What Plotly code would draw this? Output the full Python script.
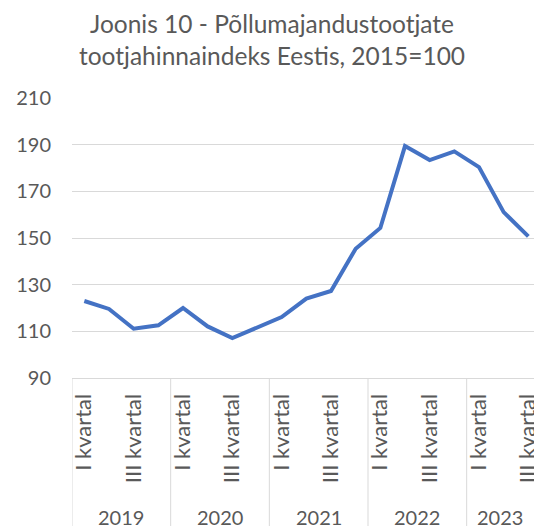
import plotly.graph_objects as go

years = ["2019", "2020", "2021", "2022", "2023"]
quarters = ["I kvartal", "II kvartal", "III kvartal", "IV kvartal"]
year_quarter_counts = [4, 4, 4, 4, 3]
values = [123.0, 119.6, 111.1, 112.6, 120.0, 112.1, 107.1, 111.5, 116.1, 124.0,
          127.3, 145.4, 154.3, 189.4, 183.4, 187.1, 180.4, 161.1, 150.7]
y_ticks = [90, 110, 130, 150, 170, 190, 210]
title_lines = ["Joonis 10 - Põllumajandustootjate", "tootjahinnaindeks Eestis, 2015=100"]

cat_labels = []
for y, n in zip(years, year_quarter_counts):
    for q in quarters[:n]:
        cat_labels.append(q)
xs = list(range(len(values)))

TXT = "#595959"
GRID = "#d9d9d9"
FONT = "Lato"

fig = go.Figure()
fig.add_trace(go.Scatter(x=xs, y=values, mode="lines",
                         line=dict(color="#4472C4", width=4),
                         hoverinfo="skip"))

tickvals = [i for i, l in enumerate(cat_labels) if l in ("I kvartal", "III kvartal")]
ticktext = [cat_labels[i] for i in tickvals]

W, H = 534, 526
mt, mb, ml, mr = 98, 148, 72, 0
ph = H - mt - mb
pw = W - ml - mr
XMAX = 18.23

shapes = []
annotations = []
start = 0
for y, n in zip(years, year_quarter_counts):
    shapes.append(dict(type="line", xref="x", yref="paper", x0=start - 0.5, x1=start - 0.5,
                       y0=0, y1=-(mb + 2) / ph, line=dict(color=GRID, width=1)))
    right = min(start + n - 0.5, XMAX)
    annotations.append(dict(x=(start - 0.5 + right) / 2,
                            y=-(516.5 - (H - mb)) / ph, xref="x", yref="paper",
                            text=y, showarrow=False, yanchor="middle",
                            font=dict(family=FONT, size=20, color=TXT)))
    start += n

# title as annotation (pixel centre ~ x 272, y 39)
annotations.append(dict(x=(272 - ml) / pw, y=(H - mb - 39) / ph, xref="paper", yref="paper",
                        text="<br>".join(title_lines), showarrow=False,
                        xanchor="center", yanchor="middle", align="center",
                        font=dict(family=FONT, size=24.5, color=TXT)))

fig.update_layout(
    width=W, height=H,
    margin=dict(l=ml, r=mr, t=mt, b=mb, autoexpand=False),
    paper_bgcolor="white", plot_bgcolor="white",
    showlegend=False,
    xaxis=dict(range=[-0.5, XMAX], tickmode="array", tickvals=tickvals, ticktext=ticktext,
               tickangle=-90, showgrid=False, zeroline=False, showline=True,
               linecolor=GRID, linewidth=1, ticks="", ticklabelstandoff=6,
               ticklabeloverflow="allow", automargin=False,
               tickfont=dict(family=FONT, size=22, color=TXT)),
    yaxis=dict(range=[90, 210], tickmode="array", tickvals=y_ticks, showgrid=True,
               gridcolor=GRID, gridwidth=1, zeroline=False, showline=False, ticks="",
               ticklabelstandoff=20, automargin=False,
               tickfont=dict(family=FONT, size=20, color=TXT)),
    shapes=shapes, annotations=annotations,
)

fig.write_html("out.html", config={"displayModeBar": False},
               post_script="document.body.style.margin='0';")
